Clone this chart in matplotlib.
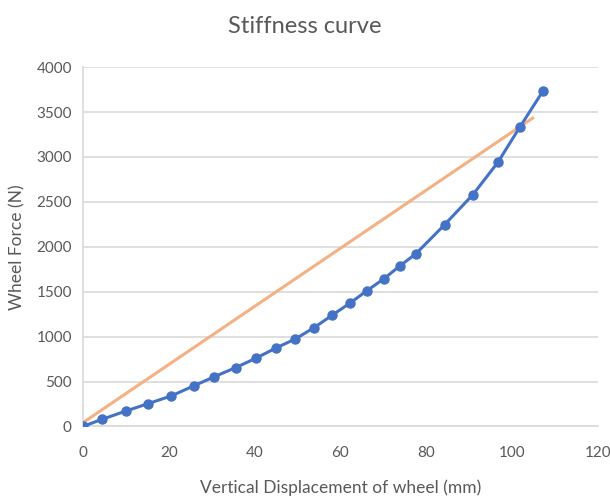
import matplotlib
matplotlib.use("Agg")
import matplotlib.pyplot as plt

# stiffness data
displacement = [0, 4.5, 10.1, 15.2, 20.6, 25.8, 30.5, 35.6, 40.3, 44.9, 49.5, 53.8,
                58.0, 62.3, 66.1, 70.1, 73.9, 77.6, 84.3, 90.9, 96.7, 101.8, 107.2]
force = [0, 80, 173, 254, 340, 451, 551, 655, 759, 871, 974, 1097,
         1235, 1375, 1508, 1642, 1788, 1922, 2246, 2581, 2939, 3330, 3732]

# straight reference line
line_x = [0, 104.8]
line_y = [42, 3432]

x_ticks = [0, 20, 40, 60, 80, 100, 120]
y_ticks = [0, 500, 1000, 1500, 2000, 2500, 3000, 3500, 4000]

plt.rcParams['font.family'] = ['Lato', 'DejaVu Sans']
text_col = '#595959'
grid_col = '#d9d9d9'

fig = plt.figure(figsize=(6.1, 4.97), dpi=100)
ax = fig.add_axes([0.136, 0.142, 0.844, 0.723])

ax.plot(line_x, line_y, color='#f4b183', linewidth=2.2, zorder=2)
ax.plot(displacement, force, color='#4472c4', linewidth=2.2, marker='o',
        markersize=6.5, zorder=3)

ax.set_xlim(0, 120)
ax.set_ylim(0, 4000)
ax.set_xticks(x_ticks)
ax.set_yticks(y_ticks)
ax.yaxis.grid(True, color=grid_col, linewidth=1.2)
ax.set_axisbelow(True)

for s in ['top', 'right']:
    ax.spines[s].set_visible(False)
for s in ['left', 'bottom']:
    ax.spines[s].set_color(grid_col)
    ax.spines[s].set_linewidth(1.2)
ax.tick_params(length=0, labelsize=11, labelcolor=text_col, pad=8)
ax.tick_params(axis='x', pad=14)

ax.set_xlabel('Vertical Displacement of wheel (mm)', fontsize=12.5, color=text_col, labelpad=14)
ax.set_ylabel('Wheel Force (N)', fontsize=12.5, color=text_col, labelpad=8)
fig.text(0.5, 0.946, 'Stiffness curve', ha='center', va='center', fontsize=17, color=text_col)

fig.savefig('out.png', dpi=100)
